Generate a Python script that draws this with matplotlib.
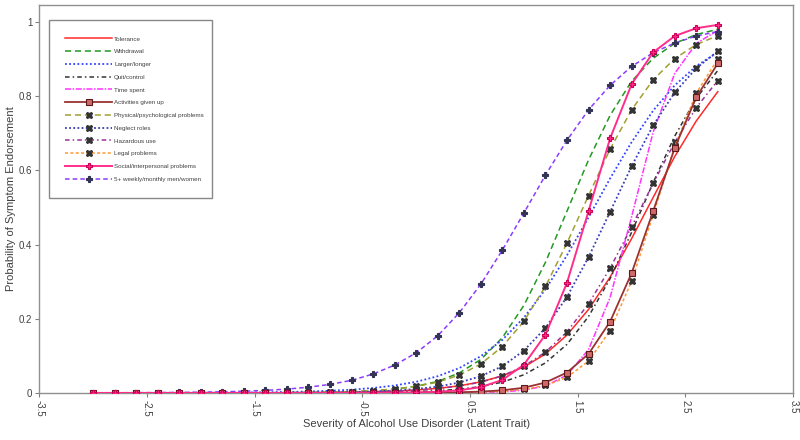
import numpy as np
import matplotlib as mpl
import matplotlib.pyplot as plt

plt.rcParams['font.family'] = ['Liberation Sans', 'DejaVu Sans']

# latent trait grid (points every 0.2)
theta = [-3.0, -2.8, -2.6, -2.4, -2.2, -2.0, -1.8, -1.6, -1.4, -1.2,
         -1.0, -0.8, -0.6, -0.4, -0.2, 0.0, 0.2, 0.4, 0.6, 0.8,
         1.0, 1.2, 1.4, 1.6, 1.8, 2.0, 2.2, 2.4, 2.6, 2.8]

# probabilities
tolerance = [0.0, 0.0, 0.0, 0.0001, 0.0001, 0.0001, 0.0001, 0.0002, 0.0003, 0.0005,
             0.0008, 0.0013, 0.002, 0.0032, 0.005, 0.0078, 0.0123, 0.019, 0.030, 0.046,
             0.070, 0.105, 0.156, 0.225, 0.312, 0.416, 0.527, 0.637, 0.733, 0.812]
withdrawal = [0.0, 0.0, 0.0, 0.0, 0.0, 0.0001, 0.0001, 0.0002, 0.0004, 0.0006,
              0.0011, 0.0019, 0.0033, 0.0058, 0.0103, 0.018, 0.031, 0.054, 0.090, 0.149,
              0.236, 0.352, 0.490, 0.628, 0.748, 0.840, 0.902, 0.942, 0.966, 0.980]
larger_longer = [0.0001, 0.0001, 0.0001, 0.0002, 0.0003, 0.0005, 0.0007, 0.0011, 0.0016, 0.0025,
                 0.0038, 0.0058, 0.0088, 0.0133, 0.020, 0.030, 0.045, 0.067, 0.099, 0.143,
                 0.203, 0.279, 0.371, 0.473, 0.578, 0.676, 0.761, 0.829, 0.881, 0.918]
quit_control = [0.0, 0.0, 0.0, 0.0, 0.0, 0.0, 0.0001, 0.0001, 0.0001, 0.0001,
                0.0002, 0.0004, 0.0007, 0.0012, 0.002, 0.0034, 0.0059, 0.010, 0.017, 0.029,
                0.049, 0.081, 0.131, 0.206, 0.308, 0.433, 0.567, 0.692, 0.794, 0.869]
time_spent = [0.0, 0.0, 0.0, 0.0, 0.0, 0.0, 0.0, 0.0, 0.0, 0.0,
              0.0, 0.0, 0.0, 0.0, 0.0, 0.0001, 0.0002, 0.0004, 0.0011, 0.0028,
              0.0074, 0.019, 0.048, 0.117, 0.257, 0.475, 0.703, 0.861, 0.942, 0.977]
activities = [0.0, 0.0, 0.0, 0.0, 0.0, 0.0, 0.0, 0.0, 0.0, 0.0,
              0.0, 0.0, 0.0, 0.0001, 0.0002, 0.0004, 0.0009, 0.0018, 0.0035, 0.0071,
              0.014, 0.028, 0.055, 0.105, 0.192, 0.323, 0.490, 0.660, 0.797, 0.888]
physical = [0.0, 0.0, 0.0, 0.0, 0.0001, 0.0001, 0.0002, 0.0003, 0.0005, 0.0008,
            0.0013, 0.0022, 0.0037, 0.0062, 0.0105, 0.0175, 0.029, 0.048, 0.078, 0.125,
            0.193, 0.287, 0.404, 0.532, 0.657, 0.763, 0.844, 0.901, 0.939, 0.963]
neglect = [0.0, 0.0, 0.0, 0.0, 0.0, 0.0001, 0.0001, 0.0002, 0.0003, 0.0005,
           0.0009, 0.0014, 0.0024, 0.0039, 0.0064, 0.0105, 0.017, 0.028, 0.045, 0.072,
           0.114, 0.175, 0.259, 0.366, 0.488, 0.611, 0.721, 0.810, 0.875, 0.921]
hazardous = [0.0, 0.0, 0.0, 0.0, 0.0001, 0.0001, 0.0001, 0.0002, 0.0003, 0.0004,
             0.0007, 0.0011, 0.0018, 0.0029, 0.0046, 0.0073, 0.0117, 0.0185, 0.029, 0.046,
             0.072, 0.110, 0.165, 0.240, 0.336, 0.448, 0.565, 0.675, 0.769, 0.842]
legal = [0.0, 0.0, 0.0, 0.0, 0.0, 0.0, 0.0, 0.0, 0.0, 0.0,
         0.0, 0.0, 0.0, 0.0, 0.0001, 0.0002, 0.0005, 0.001, 0.0021, 0.0045,
         0.0096, 0.020, 0.042, 0.086, 0.168, 0.301, 0.480, 0.664, 0.808, 0.900]
social = [0.0, 0.0, 0.0, 0.0, 0.0, 0.0, 0.0, 0.0, 0.0, 0.0,
          0.0, 0.0001, 0.0001, 0.0003, 0.0006, 0.0014, 0.0031, 0.0070, 0.0157, 0.035,
          0.076, 0.157, 0.297, 0.490, 0.686, 0.832, 0.918, 0.962, 0.983, 0.992]
weekly = [0.0003, 0.0004, 0.0006, 0.0009, 0.0013, 0.0020, 0.0030, 0.0045, 0.0068, 0.0103,
          0.0154, 0.023, 0.034, 0.051, 0.075, 0.108, 0.154, 0.216, 0.293, 0.385,
          0.485, 0.587, 0.681, 0.763, 0.829, 0.880, 0.917, 0.943, 0.962, 0.974]

x_ticks = [-3.5, -2.5, -1.5, -0.5, 0.5, 1.5, 2.5, 3.5]
y_ticks = [0, 0.2, 0.4, 0.6, 0.8, 1]

fig = plt.figure(figsize=(8, 4.4), dpi=100)
ax = fig.add_axes([0.049, 0.107, 0.9425, 0.882])

mk = dict(markersize=4.5, markeredgewidth=0.8)
# curves without markers
ax.plot(theta, tolerance, color='#ff2a2a', lw=1.1, ls='-', label='Tolerance')
ax.plot(theta, withdrawal, color='#229922', lw=1.1, ls=(0, (4, 2.5)), label='Withdrawal')
ax.plot(theta, larger_longer, color='#3344ff', lw=1.3, ls=(0, (1, 1.3)), label='Larger/longer')
ax.plot(theta, quit_control, color='#333333', lw=1.1, ls=(0, (3, 2, 1, 2)), label='Quit/control')
ax.plot(theta, time_spent, color='#ff33ff', lw=1.1, ls=(0, (4, 1, 1, 1)), label='Time spent')
# curves with markers (social and activities drawn on top)
ax.plot(theta, activities, color='#993333', lw=1.3, ls='-', marker='s',
        mfc='#d06a6a', mec='#5a1a1a', label='Activities given up', zorder=4, **mk)
ax.plot(theta, physical, color='#a0a030', lw=1.1, ls=(0, (4, 2.5)), marker='X',
        mfc='#333333', mec='#333333', label='Physical/psychological problems', **mk)
ax.plot(theta, neglect, color='#3a3ab8', lw=1.3, ls=(0, (1, 1.3)), marker='X',
        mfc='#333333', mec='#333333', label='Neglect roles', **mk)
ax.plot(theta, hazardous, color='#993399', lw=1.1, ls=(0, (3, 2, 1, 2)), marker='X',
        mfc='#333333', mec='#333333', label='Hazardous use', **mk)
ax.plot(theta, legal, color='#ff9933', lw=1.1, ls=(0, (2, 1.5)), marker='X',
        mfc='#333333', mec='#333333', label='Legal problems', **mk)
ax.plot(theta, social, color='#ff2d8a', lw=1.4, ls='-', marker='P',
        mfc='#ff2d8a', mec='#cc0055', label='Social/interpersonal problems', zorder=5, **mk)
ax.plot(theta, weekly, color='#8a3cff', lw=1.1, ls=(0, (3, 2)), marker='P',
        mfc='#333355', mec='#333355', label='5+ weekly/monthly men/women', zorder=3, **mk)

ax.set_xlim(-3.5, 3.5)
ax.set_ylim(0, 1.046)
ax.set_xticks(x_ticks)
ax.set_xticklabels([str(t) for t in x_ticks], rotation=-90)
ax.set_yticks(y_ticks)
ax.set_yticklabels(['0', '0.2', '0.4', '0.6', '0.8', '1'])
ax.tick_params(direction='out', length=3, width=0.8, color='#808080',
               labelsize=7, labelcolor='#404040', pad=2)
for s in ax.spines.values():
    s.set_color('#909090')
    s.set_linewidth(1.0)

ax.set_xlabel('Severity of Alcohol Use Disorder (Latent Trait)', fontsize=8,
              color='#404040', labelpad=2)
ax.set_ylabel('Probability of Symptom Endorsement', fontsize=8, color='#404040')
ax.yaxis.set_label_coords(-0.031, 0.5)

leg = ax.legend(loc='upper left', bbox_to_anchor=(0.0133, 0.5, 0.216, 0.461),
                mode='expand', borderaxespad=0, fontsize=4.5,
                handlelength=7.4, handletextpad=0.4, labelspacing=1.18,
                borderpad=2.6, fancybox=False, framealpha=1, edgecolor='#888888')
leg.get_frame().set_linewidth(1.0)
for t in leg.get_texts():
    t.set_color('#404040')

plt.savefig('out.png', dpi=100)
plt.close()
